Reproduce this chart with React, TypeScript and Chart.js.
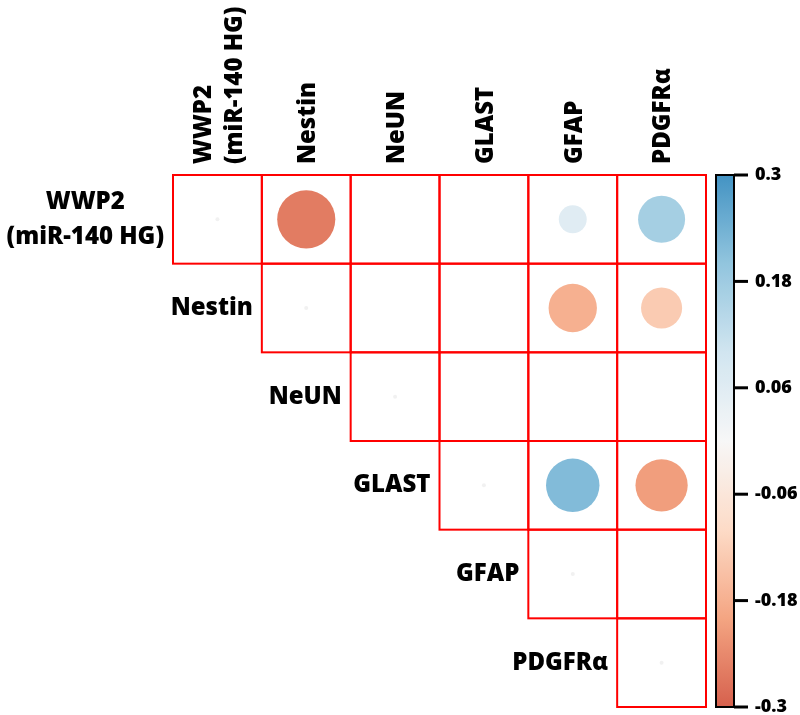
import React, { useEffect, useRef } from "react";
import { Chart, registerables } from "chart.js";

Chart.register(...registerables);

// ---- data ----
const rowLabels: string[][] = [
  ["WWP2", "(miR-140 HG)"],
  ["Nestin"],
  ["NeUN"],
  ["GLAST"],
  ["GFAP"],
  ["PDGFRα"],
];
const colLabels: string[][] = rowLabels;

// upper-triangle correlation values (row i, columns i..5); diagonal = null
const rowWWP2: (number | null)[] = [null, -0.26, 0, 0, 0.06, 0.17];
const rowNestin: (number | null)[] = [null, 0, 0, -0.18, -0.13];
const rowNeUN: (number | null)[] = [null, 0, 0, 0];
const rowGLAST: (number | null)[] = [null, 0.22, -0.21];
const rowGFAP: (number | null)[] = [null, 0];
const rowPDGFRa: (number | null)[] = [null];
const rows = [rowWWP2, rowNestin, rowNeUN, rowGLAST, rowGFAP, rowPDGFRa];

const colorbarTicks: number[] = [0.3, 0.18, 0.06, -0.06, -0.18, -0.3];
const colorbarMin = -0.3;
const colorbarMax = 0.3;

// RdBu colormap stops
const cmapStops: [number, string][] = [
  [-0.3, "#d6604d"],
  [-0.2, "#f4a582"],
  [-0.1, "#fddbc7"],
  [0, "#f7f7f7"],
  [0.1, "#d1e5f0"],
  [0.2, "#92c5de"],
  [0.3, "#4393c3"],
];

function hexToRgb(h: string) {
  const n = parseInt(h.slice(1), 16);
  return [(n >> 16) & 255, (n >> 8) & 255, n & 255];
}
function colorFor(v: number): string {
  const c = Math.max(colorbarMin, Math.min(colorbarMax, v));
  for (let i = 0; i < cmapStops.length - 1; i++) {
    const [v0, c0] = cmapStops[i];
    const [v1, c1] = cmapStops[i + 1];
    if (c >= v0 && c <= v1) {
      const t = (c - v0) / (v1 - v0);
      const a = hexToRgb(c0);
      const b = hexToRgb(c1);
      const m = a.map((x, k) => Math.round(x + (b[k] - x) * t));
      return `rgb(${m[0]},${m[1]},${m[2]})`;
    }
  }
  return cmapStops[cmapStops.length - 1][1];
}

const N = rowLabels.length;
const FONT = "'Open Sans', 'DejaVu Sans', sans-serif";

export default function App() {
  const ref = useRef<HTMLCanvasElement | null>(null);

  useEffect(() => {
    document.body.style.margin = "0";
    const canvas = ref.current!;
    const points: any[] = [];
    const diag: any[] = [];
    rows.forEach((r, i) => {
      r.forEach((v, k) => {
        const j = i + k;
        if (v === null) diag.push({ x: j + 0.5, y: i + 0.5, r: 2 });
        else if (v !== 0) points.push({ x: j + 0.5, y: i + 0.5, r: 57 * Math.sqrt(Math.abs(v)), v });
      });
    });

    const gridPlugin = {
      id: "grid",
      beforeDatasetsDraw(chart: any) {
        const { ctx } = chart;
        const xs = chart.scales.x;
        const ys = chart.scales.y;
        ctx.save();
        ctx.strokeStyle = "#ff0000";
        ctx.lineWidth = 2;
        for (let i = 0; i < N; i++) {
          for (let j = i; j < N; j++) {
            const x0 = xs.getPixelForValue(j);
            const x1 = xs.getPixelForValue(j + 1);
            const y0 = ys.getPixelForValue(i);
            const y1 = ys.getPixelForValue(i + 1);
            ctx.strokeRect(x0, y0, x1 - x0, y1 - y0);
          }
        }
        ctx.restore();
      },
      afterDraw(chart: any) {
        const { ctx } = chart;
        const xs = chart.scales.x;
        const ys = chart.scales.y;
        const cb = chart.scales.cb;
        ctx.save();
        ctx.fillStyle = "#000";
        ctx.font = `800 24px ${FONT}`;
        // column labels
        colLabels.forEach((lines, j) => {
          const cx = xs.getPixelForValue(j + 0.5);
          const sp = 31;
          lines.forEach((t, li) => {
            const off = (li - (lines.length - 1) / 2) * sp;
            ctx.save();
            ctx.translate(cx + off + 2, ys.top - 11);
            ctx.rotate(-Math.PI / 2);
            ctx.textAlign = "left";
            ctx.textBaseline = "middle";
            ctx.fillText(t, 0, 0);
            ctx.restore();
          });
        });
        // row labels
        rowLabels.forEach((lines, i) => {
          const left = xs.getPixelForValue(i) - 9;
          const cy = ys.getPixelForValue(i + 0.5);
          const w = Math.max(...lines.map((t) => ctx.measureText(t).width));
          const center = left - w / 2;
          const sp = 35;
          ctx.textAlign = "center";
          ctx.textBaseline = "middle";
          lines.forEach((t, li) => {
            const off = (li - (lines.length - 1) / 2) * sp;
            ctx.fillText(t, center, cy + off);
          });
        });
        // colorbar
        const bx0 = 716;
        const bx1 = 734;
        const top = cb.getPixelForValue(colorbarMax);
        const bot = cb.getPixelForValue(colorbarMin);
        const g = ctx.createLinearGradient(0, bot, 0, top);
        for (let s = 0; s <= 60; s++) {
          const v = colorbarMin + ((colorbarMax - colorbarMin) * s) / 60;
          g.addColorStop(s / 60, colorFor(v));
        }
        ctx.fillStyle = g;
        ctx.fillRect(bx0, top, bx1 - bx0, bot - top);
        ctx.strokeStyle = "#000";
        ctx.lineWidth = 2;
        ctx.strokeRect(bx0, top, bx1 - bx0, bot - top);
        ctx.lineWidth = 3;
        ctx.font = `800 18px ${FONT}`;
        ctx.fillStyle = "#000";
        ctx.textAlign = "left";
        ctx.textBaseline = "middle";
        colorbarTicks.forEach((t) => {
          const y = cb.getPixelForValue(t);
          ctx.beginPath();
          ctx.moveTo(bx1, y);
          ctx.lineTo(bx1 + 14, y);
          ctx.stroke();
          ctx.fillText(String(t), bx1 + 21, y);
        });
        ctx.restore();
      },
    };

    const chart = new Chart(canvas, {
      type: "bubble",
      data: {
        datasets: [
          {
            data: points,
            backgroundColor: (c: any) => colorFor(c.raw?.v ?? 0),
            borderWidth: 0,
          },
          {
            data: diag,
            backgroundColor: "rgba(215,215,215,0.35)",
            borderWidth: 0,
          },
        ],
      },
      options: {
        responsive: false,
        animation: false,
        devicePixelRatio: 1,
        layout: { autoPadding: false, padding: { left: 173, top: 175, right: 94, bottom: 8 } },
        plugins: { legend: { display: false }, tooltip: { enabled: false } },
        scales: {
          x: { type: "linear", min: 0, max: N, display: false },
          y: { type: "linear", min: 0, max: N, reverse: true, display: false },
          cb: { type: "linear", axis: "y", min: colorbarMin, max: colorbarMax, display: false },
        },
      } as any,
      plugins: [gridPlugin],
    });
    return () => chart.destroy();
  }, []);

  return <canvas ref={ref} width={800} height={715} style={{ display: "block" }} />;
}
